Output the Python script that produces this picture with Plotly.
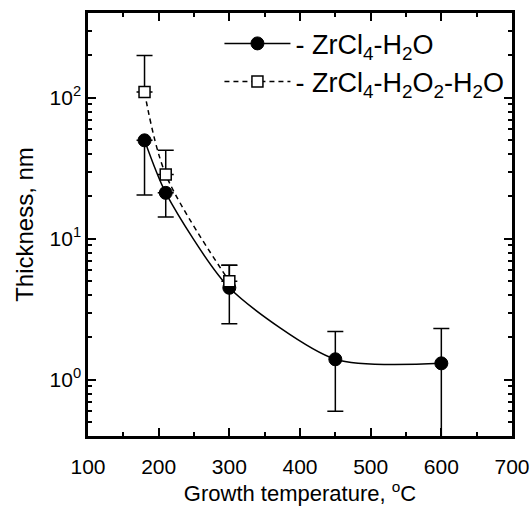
import plotly.graph_objects as go

# Growth temperature (°C)
temp_h2o = [180, 210, 300, 450, 600]
temp_h2o2 = [180, 210, 300]

# Film thickness (nm)
thick_h2o = [50, 21.2, 4.5, 1.4, 1.31]
thick_h2o2 = [110, 28.6, 5.0]

# Error bar extents (nm)
err_up_h2o = [0, 0, 2.0, 0.8, 1.0]
err_dn_h2o = [29.5, 6.9, 2.0, 0.8, 1.0]
err_up_h2o2 = [90, 14, 1.5]
err_dn_h2o2 = [0, 0, 0]

# Axis ticks
x_ticks = [100, 200, 300, 400, 500, 600, 700]
y_ticks = [1, 10, 100]
y_ticktext = ["10<sup>0</sup>", "10<sup>1</sup>", "10<sup>2</sup>"]

FONT = "Liberation Sans, Arial, sans-serif"

fig = go.Figure()

fig.add_trace(go.Scatter(
    x=temp_h2o, y=thick_h2o,
    mode="lines+markers",
    name="- ZrCl<sub>4</sub>-H<sub>2</sub>O",
    line=dict(color="black", width=1.5, shape="spline", smoothing=0.7),
    marker=dict(symbol="circle", size=13, color="black",
                line=dict(color="black", width=1)),
    error_y=dict(type="data", symmetric=False, array=err_up_h2o,
                 arrayminus=err_dn_h2o, color="black", thickness=1.5, width=8),
))

fig.add_trace(go.Scatter(
    x=temp_h2o2, y=thick_h2o2,
    mode="lines+markers",
    name="- ZrCl<sub>4</sub>-H<sub>2</sub>O<sub>2</sub>-H<sub>2</sub>O",
    line=dict(color="black", width=1.5, dash="5px,4px", shape="spline", smoothing=0.9),
    marker=dict(symbol="square", size=11, color="white",
                line=dict(color="black", width=1.5)),
    error_y=dict(type="data", symmetric=False, array=err_up_h2o2,
                 arrayminus=err_dn_h2o2, color="black", thickness=1.5, width=8),
))

minor_y = [0.4, 0.5, 0.6, 0.7, 0.8, 0.9] + [2, 3, 4, 5, 6, 7, 8, 9] + \
          [20, 30, 40, 50, 60, 70, 80, 90] + [200, 300, 400]

fig.update_layout(
    width=532, height=507,
    margin=dict(l=88, r=20, t=13, b=71),
    paper_bgcolor="white", plot_bgcolor="white",
    font=dict(family=FONT, size=21, color="black"),
    showlegend=True,
    legend=dict(x=0.31, y=0.985, xanchor="left", yanchor="top",
                bgcolor="rgba(0,0,0,0)", borderwidth=0,
                font=dict(family=FONT, size=27), itemwidth=66,
                tracegroupgap=0),
    xaxis=dict(
        range=[100, 700], tickvals=x_ticks, automargin=False,
        ticks="inside", ticklen=8, tickwidth=1.5, tickcolor="black",
        minor=dict(ticks="inside", ticklen=4, tickwidth=1.5, dtick=50, tickcolor="black"),
        showline=True, linewidth=2.5, linecolor="black", mirror="ticks",
        showgrid=False, zeroline=False, ticklabelstandoff=10,
        title=dict(text="Growth temperature, <sup>o</sup>C", standoff=8,
                   font=dict(family=FONT, size=22)),
        tickfont=dict(family=FONT, size=21),
    ),
    yaxis=dict(
        type="log", range=[-0.398, 2.602], automargin=False,
        tickvals=y_ticks, ticktext=y_ticktext,
        ticks="inside", ticklen=8, tickwidth=1.5, tickcolor="black",
        minor=dict(ticks="inside", ticklen=4, tickwidth=1.5, tickvals=minor_y, tickcolor="black"),
        showline=True, linewidth=2.5, linecolor="black", mirror="ticks",
        showgrid=False, zeroline=False,
        title=dict(text="Thickness, nm", standoff=10,
                   font=dict(family=FONT, size=24)),
        tickfont=dict(family=FONT, size=21),
    ),
)

fig.write_html("out.html")
